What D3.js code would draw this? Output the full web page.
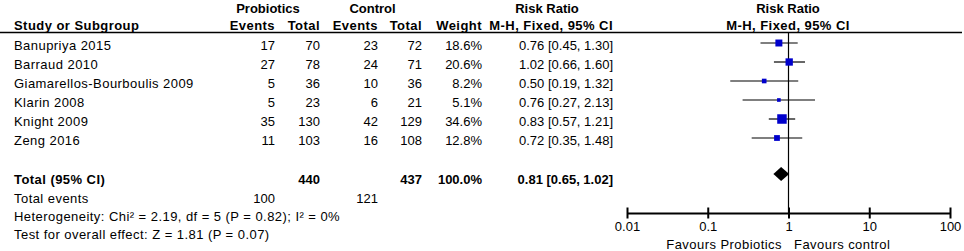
<!DOCTYPE html>
<html>
<head>
<meta charset="utf-8">
<script src="https://cdn.jsdelivr.net/npm/d3@7"></script>
<style>
  body { margin: 0; background: #fff; }
  text { font-family: "Liberation Sans", Arial, sans-serif; font-size: 13px; fill: #000; }
  .lbl { letter-spacing: 0.45px; }
</style>
</head>
<body>
<div id="forest"></div>
<script>
const studies = ["Banupriya 2015", "Barraud 2010", "Giamarellos-Bourboulis 2009", "Klarin 2008", "Knight 2009", "Zeng 2016"];
const probEvents = [17, 27, 5, 5, 35, 11];
const probTotal = [70, 78, 36, 23, 130, 103];
const ctrlEvents = [23, 24, 10, 6, 42, 16];
const ctrlTotal = [72, 71, 36, 21, 129, 108];
const weights = [18.6, 20.6, 8.2, 5.1, 34.6, 12.8];
const rr = [0.76, 1.02, 0.50, 0.76, 0.83, 0.72];
const rrLow = [0.45, 0.66, 0.19, 0.27, 0.57, 0.35];
const rrHigh = [1.30, 1.60, 1.32, 2.13, 1.21, 1.48];
const pooled = { rr: 0.81, lo: 0.65, hi: 1.02, n1: 440, n2: 437, ev1: 100, ev2: 121 };
const axisTicks = [0.01, 0.1, 1, 10, 100];

const width = 964, height = 251;

const svg = d3.select("#forest")
  .append("svg")
  .attr("width", width)
  .attr("height", height);

const x = d3.scaleLog().domain([0.01, 100]).range([627, 950]);
const rowY = d3.scalePoint().domain(studies).range([43, 138]);
const boxSize = d3.scaleSqrt().domain([0, 34.6]).range([0, 9.5]);

// column right edges
const col = { ev1: 275, n1: 320, ev2: 378, n2: 422, w: 482, ci: 613 };

// headers
svg.append("text").attr("x", 268).attr("y", 12.5).attr("text-anchor", "middle").attr("font-weight", "bold").text("Probiotics");
svg.append("text").attr("x", 372.5).attr("y", 12.5).attr("text-anchor", "middle").attr("font-weight", "bold").text("Control");
svg.append("text").attr("x", 547).attr("y", 12.5).attr("text-anchor", "middle").attr("font-weight", "bold").text("Risk Ratio");
svg.append("text").attr("x", 788).attr("y", 12.5).attr("text-anchor", "middle").attr("font-weight", "bold").text("Risk Ratio");

const h2 = [
  ["Study or Subgroup", 14, "start"],
  ["Events", col.ev1, "end"],
  ["Total", col.n1, "end"],
  ["Events", col.ev2, "end"],
  ["Total", col.n2, "end"],
  ["Weight", col.w, "end"],
  ["M-H, Fixed, 95% CI", col.ci, "end"]
];
svg.append("g").selectAll("text").data(h2).join("text")
  .attr("class", "lbl")
  .attr("x", d => d[1]).attr("y", 30)
  .attr("text-anchor", d => d[2])
  .attr("font-weight", "bold")
  .text(d => d[0]);
svg.append("text").attr("class", "lbl").attr("x", 788).attr("y", 30).attr("text-anchor", "middle").attr("font-weight", "bold").text("M-H, Fixed, 95% CI");

svg.append("line").attr("x1", 0).attr("x2", 962).attr("y1", 32.5).attr("y2", 32.5)
  .attr("stroke", "#000").attr("stroke-width", 1.3);

// study rows
const rows = svg.append("g").selectAll("g").data(studies).join("g")
  .attr("transform", d => `translate(0,${rowY(d) + 7})`);
rows.append("text").attr("class", "lbl").attr("x", 14).text(d => d);
rows.append("text").attr("x", col.ev1).attr("text-anchor", "end").text((d, i) => probEvents[i]);
rows.append("text").attr("x", col.n1).attr("text-anchor", "end").text((d, i) => probTotal[i]);
rows.append("text").attr("x", col.ev2).attr("text-anchor", "end").text((d, i) => ctrlEvents[i]);
rows.append("text").attr("x", col.n2).attr("text-anchor", "end").text((d, i) => ctrlTotal[i]);
rows.append("text").attr("x", col.w).attr("text-anchor", "end").text((d, i) => weights[i].toFixed(1) + "%");
rows.append("text").attr("x", col.ci).attr("text-anchor", "end")
  .text((d, i) => `${rr[i].toFixed(2)} [${rrLow[i].toFixed(2)}, ${rrHigh[i].toFixed(2)}]`);

// total row
const yTot = 184;
svg.append("text").attr("class", "lbl").attr("x", 14).attr("y", yTot).attr("font-weight", "bold").text("Total (95% CI)");
svg.append("text").attr("x", col.n1).attr("y", yTot).attr("text-anchor", "end").attr("font-weight", "bold").text(pooled.n1);
svg.append("text").attr("x", col.n2).attr("y", yTot).attr("text-anchor", "end").attr("font-weight", "bold").text(pooled.n2);
svg.append("text").attr("x", col.w).attr("y", yTot).attr("text-anchor", "end").attr("font-weight", "bold").text("100.0%");
svg.append("text").attr("x", col.ci).attr("y", yTot).attr("text-anchor", "end").attr("font-weight", "bold")
  .text(`${pooled.rr.toFixed(2)} [${pooled.lo.toFixed(2)}, ${pooled.hi.toFixed(2)}]`);

svg.append("text").attr("class", "lbl").attr("x", 14).attr("y", 203).text("Total events");
svg.append("text").attr("x", col.ev1).attr("y", 203).attr("text-anchor", "end").text(pooled.ev1);
svg.append("text").attr("x", col.ev2).attr("y", 203).attr("text-anchor", "end").text(pooled.ev2);
svg.append("text").attr("class", "lbl").attr("x", 14).attr("y", 221).text("Heterogeneity: Chi² = 2.19, df = 5 (P = 0.82); I² = 0%");
svg.append("text").attr("class", "lbl").attr("x", 14).attr("y", 239).text("Test for overall effect: Z = 1.81 (P = 0.07)");

// plot: line of no effect
const axisY = 213;
svg.append("line").attr("x1", x(1)).attr("x2", x(1)).attr("y1", 33).attr("y2", axisY)
  .attr("stroke", "#000").attr("stroke-width", 1.2);

// CIs and boxes
const plot = svg.append("g");
plot.selectAll("line.ci").data(studies).join("line")
  .attr("class", "ci")
  .attr("x1", (d, i) => x(rrLow[i])).attr("x2", (d, i) => x(rrHigh[i]))
  .attr("y1", d => rowY(d)).attr("y2", d => rowY(d))
  .attr("stroke", "#000").attr("stroke-width", 1.2);
plot.selectAll("rect").data(studies).join("rect")
  .attr("x", (d, i) => x(rr[i]) - Math.max(3.5, boxSize(weights[i])) / 2)
  .attr("y", (d, i) => rowY(d) - Math.max(3.5, boxSize(weights[i])) / 2)
  .attr("width", (d, i) => Math.max(3.5, boxSize(weights[i])))
  .attr("height", (d, i) => Math.max(3.5, boxSize(weights[i])))
  .attr("fill", "#0000cc");

// diamond
const yDia = 174;
svg.append("path")
  .attr("d", `M${x(pooled.lo)},${yDia} L${x(pooled.rr)},${yDia - 7} L${x(pooled.hi)},${yDia} L${x(pooled.rr)},${yDia + 7} Z`)
  .attr("fill", "#000");

// axis
const axis = svg.append("g").attr("transform", `translate(0,${axisY})`)
  .call(d3.axisBottom(x).tickValues(axisTicks).tickFormat(d => d).tickSize(0).tickPadding(9));
axis.select(".domain").attr("stroke", "#000").attr("stroke-width", 2);
axis.selectAll(".tick line").attr("y1", -5.5).attr("y2", 5.5).attr("stroke", "#000").attr("stroke-width", 2);
axis.selectAll("text").attr("font-family", "Liberation Sans, Arial, sans-serif").attr("font-size", 13).attr("fill", "#000");

svg.append("text").attr("class", "lbl").attr("x", 782).attr("y", 249).attr("text-anchor", "end").text("Favours Probiotics");
svg.append("text").attr("class", "lbl").attr("x", 794).attr("y", 249).text("Favours control");
</script>
</body>
</html>
